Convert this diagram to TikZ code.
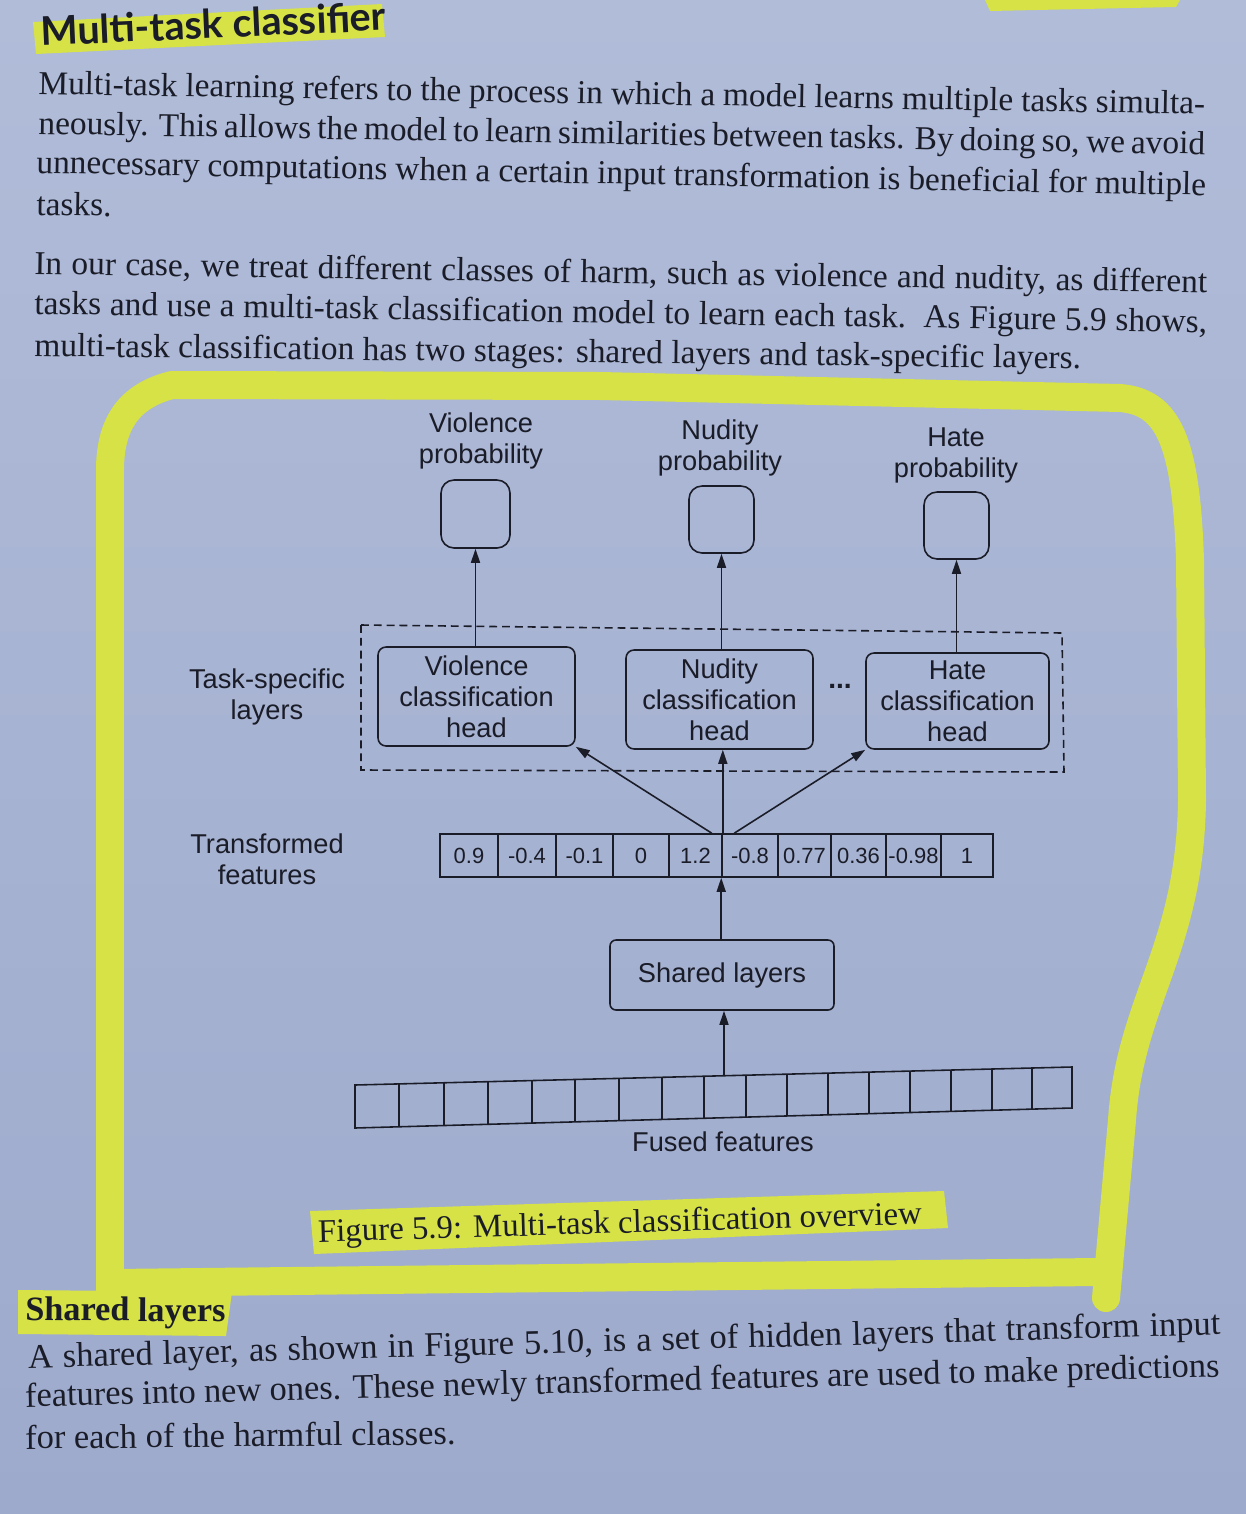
\documentclass[tikz,border=0pt]{standalone}
\usepackage{fontspec}
\setmainfont{Liberation Serif}
\newfontfamily\diagfont{Liberation Sans}
\newfontfamily\headfont{Lato}
\usetikzlibrary{arrows.meta,calc}
\definecolor{paperTop}{RGB}{176,188,216}
\definecolor{paperBot}{RGB}{158,170,204}
\definecolor{ink}{RGB}{26,28,40}
\definecolor{hl}{RGB}{214,226,70}
\begin{document}
\begin{tikzpicture}[x=0.02cm,y=-0.02cm,
  every node/.style={text=ink, inner sep=0pt},
  bodyline/.style={anchor=base west, font=\fontsize{19}{22}\selectfont},
  bodylineb/.style={anchor=base west, font=\fontsize{19.6}{22}\selectfont},
  lbl/.style={font=\diagfont\fontsize{15.5}{17.6}\selectfont, align=center},
  headbox/.style={draw=ink, line width=0.9pt, rounded corners=0.16cm, lbl},
  probbox/.style={draw=ink, line width=0.9pt, rounded corners=0.26cm},
  numcell/.style={draw=ink, line width=0.9pt, minimum height=0.86cm, font=\diagfont\fontsize{12.5}{14}\selectfont},
  conn/.style={draw=ink, line width=0.9pt, -{Triangle[length=0.28cm,width=0.18cm]}},
  plain/.style={draw=ink, line width=0.9pt},
  hlframe/.style={draw=hl, line width=0.56cm, line cap=round, line join=round},
  hlfill/.style={fill=hl}
]
\shade[top color=paperTop, bottom color=paperBot] (0,0) rectangle (1246,1514);
\useasboundingbox (0,0) rectangle (1246,1514);

% ---------- highlights ----------
\fill[hlfill] (33,22) -- (382,4) -- (385,37) -- (36,54) -- cycle;
\fill[hlfill] (985,0) -- (1180,0) -- (1176,7) -- (990,11) -- cycle;
\draw[hlframe] (110,1292) -- (110,470) .. controls (110,425) and (128,396) .. (172,385) -- (600,386) -- (1120,398) .. controls (1168,402) and (1186,440) .. (1190,560) -- (1192,800) .. controls (1190,950) and (1130,1000) .. (1122,1120) -- (1106,1298);
\draw[hlframe] (112,1283) -- (1096,1272);
\fill[hlfill] (310,1211) -- (944,1191) -- (948,1228) -- (314,1254) -- cycle;
\fill[hlfill] (18,1290) -- (232,1292) -- (226,1336) -- (18,1334) -- cycle;

% ---------- page text ----------
\node[anchor=base west, rotate=2.6, font=\headfont\bfseries\fontsize{22.5}{26}\selectfont] (title) at (41,46) {Multi-task classifier};

\node[bodyline, rotate=-1] (p1a) at (38,94) {\makebox[23.34cm][s]{Multi-task learning refers to the process in which a model learns multiple tasks simulta-}};
\node[bodyline, rotate=-1] (p1b) at (38,134) {\makebox[23.34cm][s]{neously. This allows the model to learn similarities between tasks. By doing so, we avoid}};
\node[bodyline, rotate=-1.1] (p1c) at (36,173) {\makebox[23.40cm][s]{unnecessary computations when a certain input transformation is beneficial for multiple}};
\node[bodyline, rotate=-1] (p1d) at (36,215) {tasks.};

\node[bodyline, rotate=-0.9] (p2a) at (34,274) {\makebox[23.46cm][s]{In our case, we treat different classes of harm, such as violence and nudity, as different}};
\node[bodyline, rotate=-0.9] (p2b) at (34,314) {\makebox[23.46cm][s]{tasks and use a multi-task classification model to learn each task.\ \ As Figure 5.9 shows,}};
\node[bodyline, rotate=-0.7] (p2c) at (34,356) {multi-task classification has two stages: shared layers and task-specific layers.};

\node[anchor=base west, rotate=1.7, font=\fontsize{18.7}{21}\selectfont] (caption) at (318,1242) {Figure 5.9: Multi-task classification overview};

\node[anchor=base west, rotate=-0.5, font=\bfseries\fontsize{19.5}{22}\selectfont] (sharedhead) at (25,1320) {Shared layers};
\node[bodylineb, rotate=1.6] (p3a) at (28,1368) {\makebox[23.86cm][s]{A shared layer, as shown in Figure 5.10, is a set of hidden layers that transform input}};
\node[bodylineb, rotate=1.45] (p3b) at (25,1407) {\makebox[23.90cm][s]{features into new ones. These newly transformed features are used to make predictions}};
\node[bodylineb, rotate=0.6] (p3c) at (25,1449) {for each of the harmful classes.};

% ---------- diagram ----------
\node[lbl] (vlab) at (481,441) {Violence\\probability};
\node[lbl] (nlab) at (720,448) {Nudity\\probability};
\node[lbl] (hlab) at (956,455) {Hate\\probability};

\node[probbox, minimum width=1.38cm, minimum height=1.36cm] (vprob) at (475.5,514) {};
\node[probbox, minimum width=1.30cm, minimum height=1.34cm] (nprob) at (721.5,519.5) {};
\node[probbox, minimum width=1.30cm, minimum height=1.34cm] (hprob) at (956.5,525.5) {};

\draw[plain, dash pattern=on 4.5pt off 2.8pt] (361,625) -- (1062,633) -- (1064,772) -- (361,770) -- cycle;

\node[headbox, minimum width=3.94cm, minimum height=1.98cm] (vhead) at (476.5,696.5) {Violence\\classification\\head};
\node[headbox, minimum width=3.74cm, minimum height=1.98cm] (nhead) at (719.5,699.5) {Nudity\\classification\\head};
\node[headbox, minimum width=3.66cm, minimum height=1.92cm] (hhead) at (957.5,701) {Hate\\classification\\head};
\node[font=\diagfont\bfseries\fontsize{16}{18}\selectfont] (dots) at (840,686) {...};

\node[lbl] (tasklab) at (267,697) {Task-specific\\layers};
\node[lbl] (translab) at (267,859) {Transformed\\features};

\foreach \a/\b/\v [count=\i] in {440/498/0.9, 498/556/-0.4, 556/613/-0.1, 613/669/0, 669/722/1.2, 722/778/-0.8, 778/831/0.77, 831/886/0.36, 886/941/-0.98, 941/993/1}
  \node[numcell, minimum width={(\b-\a)*0.02cm}] (c\i) at ({(\a+\b)/2},855.5) {\v};

\node[headbox, rounded corners=0.12cm, minimum width=4.48cm, minimum height=1.4cm] (shared) at (722,975) {Shared layers};

% fused features bar (slightly tilted)
\draw[plain] (355,1085) -- (1072,1067) -- (1072,1108) -- (355,1128) -- cycle;
\foreach \x in {399,444,488,532,575,619,662,704,746,787,828,869,910,951,992,1032}
  \draw[plain] (\x,{1085-0.0251*(\x-355)}) -- (\x,{1128-0.0279*(\x-355)});
\coordinate (fusedtop) at (724,1075.7);
\node[lbl] (fusedlab) at (723,1142) {Fused features};

% connectors
\draw[conn] (vhead.north -| vprob.south) -- (vprob.south);
\draw[conn] (nhead.north -| nprob.south) -- (nprob.south);
\draw[conn] (hhead.north -| hprob.south) -- (hprob.south);

\draw[conn] ($(c5.north east)+(-11,0)$) -- (vhead.south east);
\draw[conn] (c5.north east) -- (c5.north east |- nhead.south);
\draw[conn] ($(c6.north west)+(13,0)$) -- (hhead.south west);

\draw[conn] (shared.north -| c6.south west) -- (c6.south west);
\draw[conn] (fusedtop) -- (fusedtop |- shared.south);
\end{tikzpicture}
\end{document}
